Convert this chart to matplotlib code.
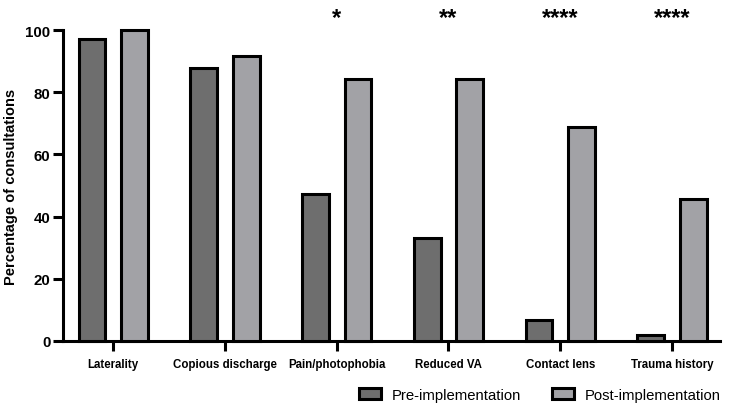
import matplotlib
matplotlib.use("Agg")
import matplotlib.pyplot as plt
import numpy as np
from matplotlib.patches import Patch

categories = ["Laterality", "Copious discharge", "Pain/photophobia", "Reduced VA", "Contact lens", "Trauma history"]
pre_values = [97.3, 87.8, 47.3, 33.0, 6.7, 2.0]
post_values = [100.0, 91.8, 84.2, 84.2, 68.9, 45.8]
significance = ["", "", "*", "**", "****", "****"]
series_names = ["Pre-implementation", "Post-implementation"]

plt.rcParams['font.family'] = ['Liberation Sans', 'DejaVu Sans']

fig = plt.figure(figsize=(7.5, 4.1), dpi=100)
ax = fig.add_axes([0.084, 0.166, 0.876, 0.758])

x = np.arange(len(categories))
w = 0.24
off = 0.19
pre_color = "#6e6e6e"
post_color = "#a2a2a6"
ax.bar(x - off, pre_values, width=w, color=pre_color, edgecolor="black", linewidth=2.2, clip_on=False, zorder=3)
ax.bar(x + off, post_values, width=w, color=post_color, edgecolor="black", linewidth=2.2, clip_on=False, zorder=3)

for xi, s in zip(x, significance):
    if s:
        ax.text(xi, 104.2, s, ha="center", va="center", fontsize=17, fontweight="bold", clip_on=False)

ax.set_xlim(-0.45, 5.43)
ax.set_ylim(0, 100)
ax.set_yticks([0, 20, 40, 60, 80, 100])
ax.set_xticks(x)
ax.set_xticklabels(categories, fontsize=8.3, fontweight="bold")
for lab in ax.get_yticklabels():
    lab.set_fontweight("bold")
    lab.set_fontsize(10.8)
ax.tick_params(axis="both", direction="out", width=2.2, length=7)
ax.tick_params(axis="y", pad=2)
ax.tick_params(axis="x", pad=5)
ax.spines["top"].set_visible(False)
ax.spines["right"].set_visible(False)
ax.spines["left"].set_linewidth(2.2)
ax.spines["bottom"].set_linewidth(2.2)
ax.set_ylabel("Percentage of consultations", fontsize=10.5, fontweight="bold", labelpad=5)

handles = [Patch(facecolor=pre_color, edgecolor="black", linewidth=2.2),
           Patch(facecolor=post_color, edgecolor="black", linewidth=2.2)]
fig.legend(handles, series_names, loc="center right", bbox_to_anchor=(0.965, 0.034), ncol=2,
           frameon=False, fontsize=10.7, handlelength=1.5, handleheight=0.75, columnspacing=2.1,
           handletextpad=0.7, borderpad=0.2, borderaxespad=0)

fig.savefig("out.png", dpi=100)
